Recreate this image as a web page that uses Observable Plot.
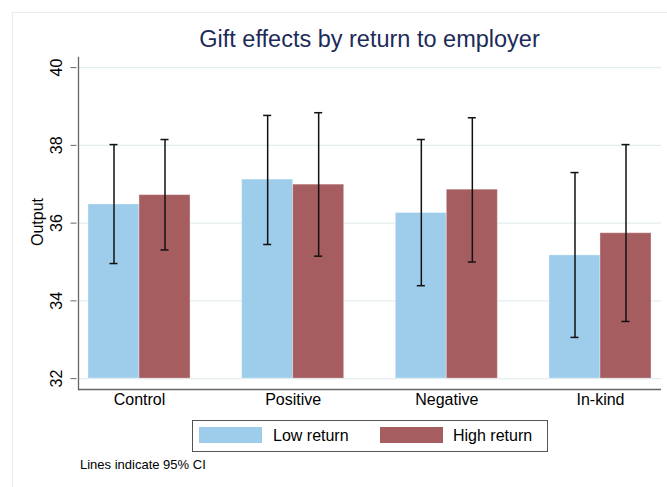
<!DOCTYPE html>
<html>
<head>
<meta charset="utf-8">
<script src="https://cdn.jsdelivr.net/npm/d3@7"></script>
<script src="https://cdn.jsdelivr.net/npm/@observablehq/plot@0.6"></script>
<style>
  body { margin: 0; background: #fff; }
  #wrap { position: relative; width: 667px; height: 487px; overflow: hidden; background: #fff;
          font-family: "Liberation Sans", Arial, Helvetica, sans-serif; }
  #frame { position: absolute; left: 12px; top: 12px; width: 700px; height: 520px; border: 1px solid #e6eef0; }
  #chart { position: absolute; left: 0; top: 0; }
  #title { position: absolute; left: 78px; width: 583px; top: 28px; text-align: center; font-size: 23.5px;
           color: #1c2b58; line-height: 1; white-space: nowrap; }
  #ylab { position: absolute; left: 38px; top: 222px; transform: translate(-50%, -50%) rotate(-90deg);
          font-size: 16px; color: #000; line-height: 1; white-space: nowrap; }
  #legend { position: absolute; left: 192px; top: 420px; width: 354px; height: 30px; border: 1px solid #555; }
  .sw { position: absolute; top: 6px; width: 63px; height: 16px; }
  .lt { position: absolute; top: 6px; font-size: 16px; line-height: 18px; color: #000; white-space: nowrap; }
  #caption { position: absolute; left: 80px; top: 458px; font-size: 13px; line-height: 1; color: #000; white-space: nowrap; }
</style>
</head>
<body>
<div id="wrap">
  <div id="frame"></div>
  <div id="chart"></div>
  <div id="title"></div>
  <div id="ylab"></div>
  <div id="legend"></div>
  <div id="caption"></div>
</div>
<script>
// ---- data ----
const groups = ["Control", "Positive", "Negative", "In-kind"];
const seriesNames = ["Low return", "High return"];
const lowMean  = [36.48, 37.12, 36.26, 35.17];
const highMean = [36.72, 36.99, 36.86, 35.74];
const lowLo    = [34.96, 35.45, 34.39, 33.06];
const lowHi    = [38.02, 38.77, 38.15, 37.30];
const highLo   = [35.31, 35.15, 35.00, 33.47];
const highHi   = [38.15, 38.84, 38.71, 38.02];
const yTicks   = [32, 34, 36, 38, 40];
const colors   = ["#9dcdea", "#a55d60"];
const titleText = "Gift effects by return to employer";
const yLabel = "Output";
const captionText = "Lines indicate 95% CI";

// ---- build rows ----
const low = groups.map((g, i) => ({group: g, series: seriesNames[0], mean: lowMean[i], lo: lowLo[i], hi: lowHi[i]}));
const high = groups.map((g, i) => ({group: g, series: seriesNames[1], mean: highMean[i], lo: highLo[i], hi: highHi[i]}));

const yDomain = [31.72, 40.26];
const base = yTicks[0];
const half = 51;      // half band width in px
const capIn = 21.5;   // cap inset

const errStyle = {stroke: "#111", strokeWidth: 1.5};

const plot = Plot.plot({
  width: 667,
  height: 420,
  marginLeft: 78,
  marginRight: 6,
  marginTop: 57,
  marginBottom: 31,
  style: {fontFamily: "'Liberation Sans', Arial, Helvetica, sans-serif", background: "transparent"},
  x: {domain: groups, paddingInner: 0.336, paddingOuter: 0.065, round: false, axis: null},
  y: {domain: yDomain, axis: null},
  color: {domain: seriesNames, range: colors},
  marks: [
    Plot.gridY(yTicks, {stroke: "#e3edf0", strokeOpacity: 1, strokeWidth: 1.4}),
    Plot.barY(low, {x: "group", y1: base, y2: "mean", fill: "series", insetRight: half, stroke: "#fff", strokeOpacity: 0.35}),
    Plot.barY(high, {x: "group", y1: base, y2: "mean", fill: "series", insetLeft: half, stroke: "#fff", strokeOpacity: 0.35}),
    Plot.ruleX(low, {x: "group", y1: "lo", y2: "hi", dx: -half / 2, ...errStyle}),
    Plot.ruleX(high, {x: "group", y1: "lo", y2: "hi", dx: half / 2, ...errStyle}),
    Plot.tickY(low, {x: "group", y: "lo", insetLeft: capIn, insetRight: half + capIn, ...errStyle}),
    Plot.tickY(low, {x: "group", y: "hi", insetLeft: capIn, insetRight: half + capIn, ...errStyle}),
    Plot.tickY(high, {x: "group", y: "lo", insetLeft: half + capIn, insetRight: capIn, ...errStyle}),
    Plot.tickY(high, {x: "group", y: "hi", insetLeft: half + capIn, insetRight: capIn, ...errStyle}),
    Plot.ruleY([yDomain[0]], {stroke: "#666", strokeWidth: 1.3}),
    Plot.frame({anchor: "left", stroke: "#666", strokeWidth: 1.3}),
    Plot.axisY(yTicks, {tickSize: 6, tickRotate: -90, fontSize: 16, label: null, stroke: "#666", fill: "#000", tickPadding: 9, dx: -1.5}),
    Plot.axisX({tickSize: 0, fontSize: 16, label: null, fill: "#000", tickPadding: 4})
  ]
});
document.getElementById("chart").appendChild(plot);

document.getElementById("title").textContent = titleText;
document.getElementById("ylab").textContent = yLabel;
document.getElementById("caption").textContent = captionText;

// legend
const legend = document.getElementById("legend");
const swX = [6, 187];
const txX = [80, 260];
seriesNames.forEach((name, i) => {
  const sw = document.createElement("div");
  sw.className = "sw";
  sw.style.left = swX[i] + "px";
  sw.style.background = colors[i];
  legend.appendChild(sw);
  const t = document.createElement("div");
  t.className = "lt";
  t.style.left = txX[i] + "px";
  t.textContent = name;
  legend.appendChild(t);
});
</script>
</body>
</html>
